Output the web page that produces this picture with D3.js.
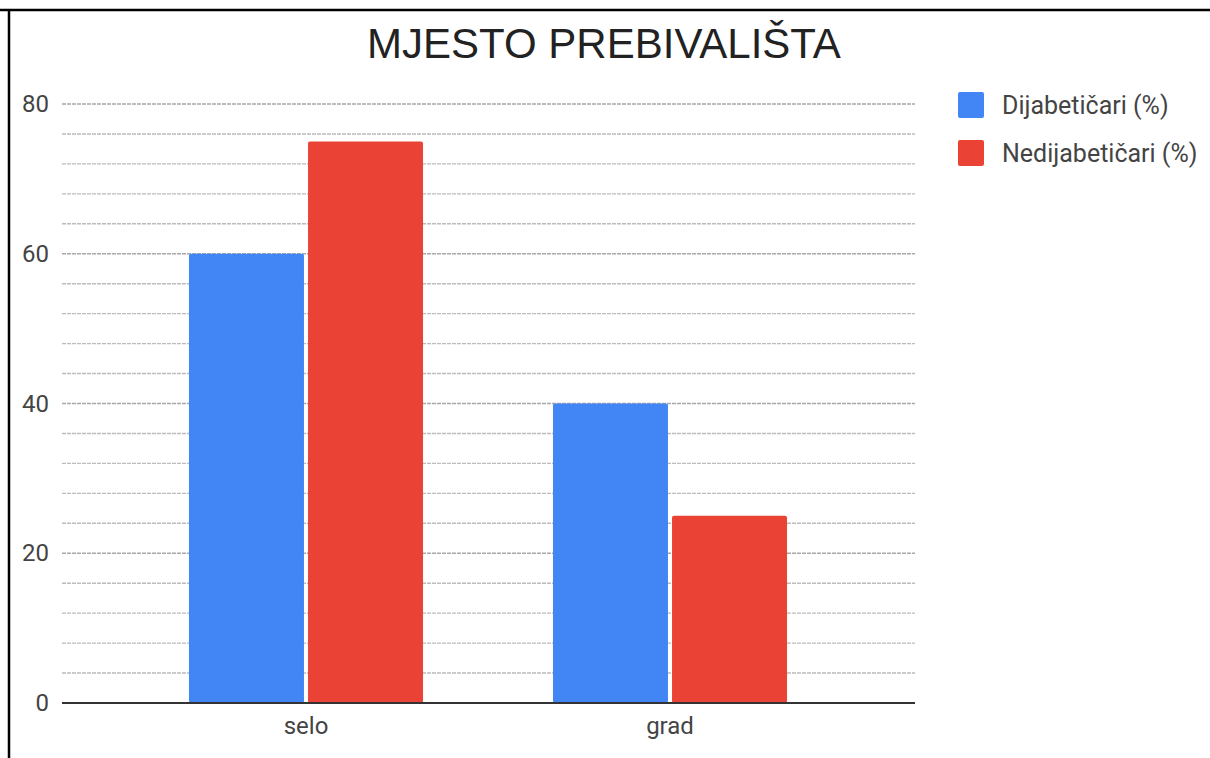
<!DOCTYPE html>
<html>
<head>
<meta charset="utf-8">
<script src="https://cdn.jsdelivr.net/npm/d3@7"></script>
<style>
  body { margin: 0; background: #fff; }
  svg { display: block; }
</style>
</head>
<body>
<svg width="1210" height="758"></svg>
<script>
// chart data
const categories = ['selo', 'grad'];
const seriesNames = ['Dijabetičari (%)', 'Nedijabetičari (%)'];
const dijabeticari = [60, 40];
const nedijabeticari = [75, 25];
const yTicks = [0, 20, 40, 60, 80];
const colors = ['#4285F4', '#EA4335'];

const svg = d3.select('svg');
const width = 1210;
const height = 758;

const data = categories.map((c, i) => ({
    category: c,
    values: [dijabeticari[i], nedijabeticari[i]]
}));

// frame lines (top and left only)
svg.append('line').attr('x1', 0).attr('x2', width).attr('y1', 10).attr('y2', 10)
    .attr('stroke', '#000').attr('stroke-width', 2.5);
svg.append('line').attr('x1', 9).attr('x2', 9).attr('y1', 10).attr('y2', height)
    .attr('stroke', '#000').attr('stroke-width', 2.5);

// title
svg.append('text')
    .attr('x', 604)
    .attr('y', 58)
    .attr('text-anchor', 'middle')
    .attr('font-family', 'Liberation Sans, Arial, sans-serif')
    .attr('font-size', 42)
    .attr('fill', '#222')
    .text('MJESTO PREBIVALIŠTA');

const plotLeft = 62, plotRight = 915;

const yScale = d3.scaleLinear()
    .domain([0, 80])
    .range([703, 104]);

const x0 = d3.scaleBand()
    .domain(categories)
    .range([124, 852])
    .paddingInner(0.357)
    .paddingOuter(0.1785);

const x1 = d3.scaleBand()
    .domain(seriesNames)
    .range([0, x0.bandwidth()])
    .paddingInner(0.034);

// minor + major gridlines (every 4 units)
const gridVals = d3.range(4, 81, 4);
svg.append('g').selectAll('line')
    .data(gridVals)
    .join('line')
    .attr('x1', plotLeft)
    .attr('x2', plotRight)
    .attr('y1', d => yScale(d))
    .attr('y2', d => yScale(d))
    .attr('stroke', d => d % 20 === 0 ? '#a8a8a8' : '#bcbcbc')
    .attr('stroke-width', 1.4)
    .attr('stroke-dasharray', '4,1');

// y axis labels
const yAxis = d3.axisLeft(yScale).tickValues(yTicks).tickSize(0).tickPadding(0);
svg.append('g')
    .attr('transform', 'translate(49,0)')
    .call(yAxis)
    .call(g => g.select('.domain').remove())
    .selectAll('text')
    .attr('font-family', 'Roboto, sans-serif')
    .attr('font-size', 24)
    .attr('fill', '#444');

// bars
svg.append('g').selectAll('g')
    .data(data)
    .join('g')
    .attr('transform', d => `translate(${x0(d.category)},0)`)
    .selectAll('rect')
    .data(d => d.values.map((v, i) => ({ name: seriesNames[i], value: v, i })))
    .join('rect')
    .attr('x', d => x1(d.name))
    .attr('y', d => yScale(d.value))
    .attr('width', x1.bandwidth())
    .attr('height', d => yScale(0) - yScale(d.value))
    .attr('rx', 2)
    .attr('fill', d => colors[d.i]);

// baseline
svg.append('line')
    .attr('x1', plotLeft).attr('x2', plotRight)
    .attr('y1', yScale(0)).attr('y2', yScale(0))
    .attr('stroke', '#333').attr('stroke-width', 2);

// x axis labels
const xAxis = d3.axisBottom(x0).tickSize(0).tickPadding(0);
svg.append('g')
    .attr('transform', 'translate(0,717)')
    .call(xAxis)
    .call(g => g.select('.domain').remove())
    .selectAll('text')
    .attr('font-family', 'Roboto, sans-serif')
    .attr('font-size', 24)
    .attr('fill', '#444');

// legend
const legend = svg.append('g').selectAll('g')
    .data(seriesNames)
    .join('g')
    .attr('transform', (d, i) => `translate(958,${92 + i * 48})`);

legend.append('rect')
    .attr('width', 26).attr('height', 26).attr('rx', 2)
    .attr('fill', (d, i) => colors[i]);

legend.append('text')
    .attr('x', 44)
    .attr('y', 13)
    .attr('dy', '0.35em')
    .attr('font-family', 'Roboto, sans-serif')
    .attr('font-size', 25)
    .attr('fill', '#444')
    .text(d => d);
</script>
</body>
</html>
